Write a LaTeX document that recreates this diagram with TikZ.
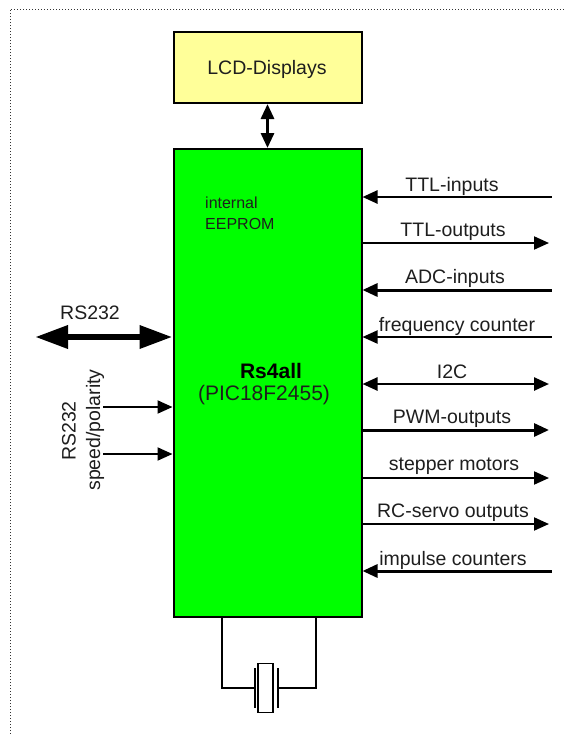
\documentclass[tikz,border=0pt]{standalone}
\usepackage{fontspec}
\setmainfont{Liberation Sans}
\usetikzlibrary{arrows.meta}

\definecolor{lcdyellow}{RGB}{255,255,153}
\definecolor{mcugreen}{RGB}{0,255,0}
\definecolor{labelgray}{RGB}{30,30,30}

\tikzset{
  block/.style={rectangle, draw=black, line width=2pt, inner sep=0pt, anchor=north west},
  label text/.style={inner sep=0pt, text=labelgray, font=\fontsize{19.5}{22}\selectfont},
  thin tip/.style={>={Triangle[length=15pt,width=13pt]}},
  signal/.style={thin tip, line width=2pt}
}

\begin{document}
\begin{tikzpicture}[x=1pt, y=-1pt]
    \useasboundingbox (0, 0) rectangle (564, 734);

    % Outer frame
    \coordinate (framebottom) at (10, 734);
    \coordinate (framecorner) at (10, 9);
    \coordinate (frameright) at (564, 9);
    \draw[dotted, line width=1pt, black!80] (framebottom) -- (framecorner) -- (frameright);

    % Blocks
    \node[block, fill=lcdyellow, minimum width=188pt, minimum height=71pt] (lcd) at (172.5, 31) {};
    \node[block, fill=mcugreen, minimum width=188pt, minimum height=468pt] (main) at (172.5, 148) {};
    \node[label text] (lcdtext) at (267, 69) {LCD-Displays};
    \draw[<->, thin tip, line width=3pt] (lcd.south) -- (main.north);

    % Text inside the main block
    \node[label text, font=\fontsize{16}{21}\selectfont, align=left, anchor=north west] (eeprom) at (205, 197) {internal\\EEPROM};
    \node[label text, font=\fontsize{21}{22}\selectfont\bfseries, text=black] (rsname) at (271, 371) {Rs4all};
    \node[label text, font=\fontsize{21}{22}\selectfont] (picname) at (264, 395) {(PIC18F2455)};

    % Signals on the right
    \foreach \name/\y/\xl/\yl/\txt/\dirn/\lw/\xe in {
        ttlin/197/452/186/TTL-inputs/<-/2.5/552,
        ttlout/243/453/232/TTL-outputs/->/2/549,
        adcin/290/455/278/ADC-inputs/<-/3/552,
        freq/337/457/326/frequency counter/<-/2/552,
        itwoc/384/452/372/I2C/<->/2.5/549,
        pwm/430/452/419/PWM-outputs/->/3/549,
        stepper/478/454/466/stepper motors/->/2/549,
        servo/524/453/513/RC-servo outputs/->/2/549,
        impulse/571/453/560/impulse counters/<-/3/552} {
      \coordinate (\name) at (\xe, \y);
      \draw[\dirn, signal, line width=\lw pt] (main.east |- \name) -- (\name);
      \node[label text] (\name text) at (\xl, \yl) {\txt};
    }

    % Serial port on the left
    \coordinate (rsport) at (35, 337);
    \draw[<->, line width=6.5pt, >={Triangle[length=33pt,width=22pt]}] (rsport) -- (main.west |- rsport);
    \node[label text] (rstext) at (90, 313) {RS232};

    % Speed and polarity pins
    \foreach \name/\y in {speed/407, polarity/454} {
      \coordinate (\name) at (103, \y);
      \draw[->, signal] (\name) -- (main.west |- \name);
    }
    \node[label text, rotate=90] (rsvert) at (69, 431) {RS232};
    \node[label text, rotate=90] (spolvert) at (95, 430) {speed/polarity};

    % Crystal
    \node[rectangle, draw=black, line width=1.6pt, fill=white, minimum width=15pt, minimum height=49pt, inner sep=0pt] (crystal) at (265.5, 688) {};
    \node[rectangle, fill=black, minimum width=2.5pt, minimum height=40pt, inner sep=0pt] (plateleft) at (255, 688) {};
    \node[rectangle, fill=black, minimum width=2.5pt, minimum height=40pt, inner sep=0pt] (plateright) at (278, 688) {};
    \coordinate (legleft) at (222, 617);
    \coordinate (legright) at (316, 617);
    \draw[line width=2.5pt] (legleft) |- (plateleft);
    \draw[line width=2.5pt] (legright) |- (plateright);
\end{tikzpicture}
\end{document}
